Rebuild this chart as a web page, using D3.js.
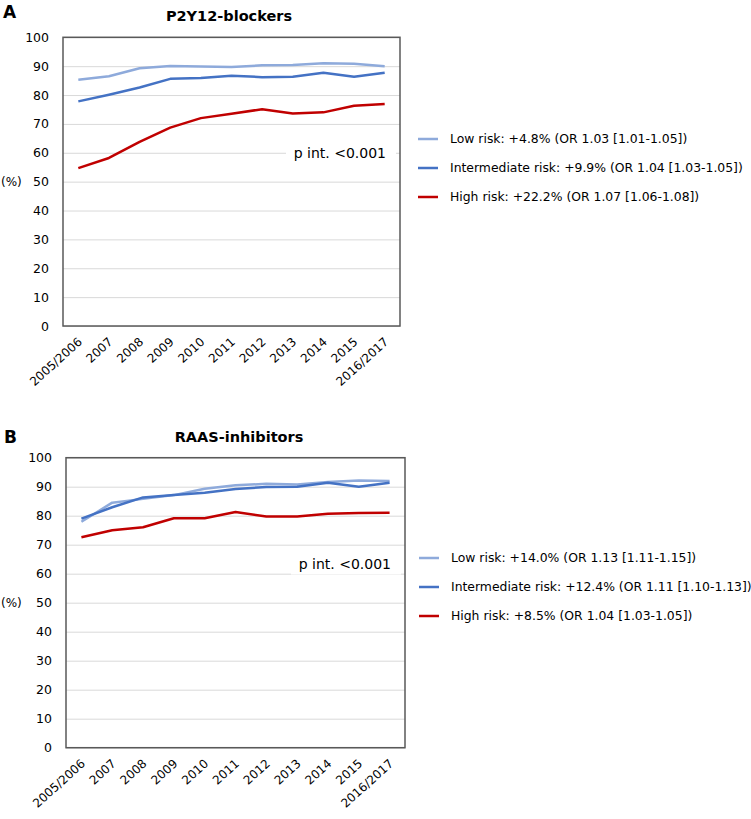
<!DOCTYPE html>
<html>
<head>
<meta charset="utf-8">
<script src="https://cdn.jsdelivr.net/npm/d3@7"></script>
<style>
  html, body { margin: 0; padding: 0; background: #fff; }
  svg { display: block; font-family: "DejaVu Sans", sans-serif; }
</style>
</head>
<body>
<svg id="chart" width="751" height="819"></svg>
<script>
// ---------- data ----------
const categories = ["2005/2006","2007","2008","2009","2010","2011","2012","2013","2014","2015","2016/2017"];
const yTickValues = [0,10,20,30,40,50,60,70,80,90,100];
const seriesNames = ["Low risk","Intermediate risk","High risk"];

const p2y12Low  = [85.3, 86.5, 89.3, 90.1, 89.9, 89.7, 90.3, 90.4, 91.0, 90.8, 90.0];
const p2y12Int  = [77.8, 80.1, 82.6, 85.6, 85.9, 86.7, 86.2, 86.3, 87.7, 86.3, 87.7];
const p2y12High = [54.7, 58.2, 63.8, 68.7, 72.0, 73.5, 75.1, 73.6, 74.0, 76.3, 76.9];
const p2y12Legend = [
  "Low risk: +4.8% (OR 1.03 [1.01-1.05])",
  "Intermediate risk: +9.9% (OR 1.04 [1.03-1.05])",
  "High risk: +22.2% (OR 1.07 [1.06-1.08])"
];

const raasLow  = [77.9, 84.5, 85.8, 87.1, 89.3, 90.5, 91.0, 90.8, 91.6, 92.1, 92.0];
const raasInt  = [79.0, 82.9, 86.3, 87.1, 87.9, 89.2, 89.9, 90.0, 91.4, 90.0, 91.4];
const raasHigh = [72.6, 75.0, 76.0, 79.1, 79.1, 81.3, 79.7, 79.7, 80.7, 80.9, 81.0];
const raasLegend = [
  "Low risk: +14.0% (OR 1.13 [1.11-1.15])",
  "Intermediate risk: +12.4% (OR 1.11 [1.10-1.13])",
  "High risk: +8.5% (OR 1.04 [1.03-1.05])"
];

const colors = ["#8eaadb", "#4472c4", "#c00000"];

// ---------- drawing ----------
const svg = d3.select("#chart");

function drawPanel(opt) {
  const g = svg.append("g");
  const x = d3.scalePoint().domain(categories).range([opt.x0, opt.x1]).padding(0.5);
  const y = d3.scaleLinear().domain([0, 100]).range([opt.y0, opt.y1]);

  // panel letter & title
  g.append("text").attr("x", opt.letterX).attr("y", opt.letterY)
    .attr("font-size", 17).attr("font-weight", "bold").attr("fill", "#000").text(opt.letter);
  g.append("text").attr("x", opt.titleX).attr("y", opt.titleY).attr("text-anchor", "middle")
    .attr("font-size", 14.5).attr("font-weight", "bold").attr("fill", "#000").text(opt.title);

  // gridlines
  const grid = g.append("g").attr("transform", `translate(${opt.x0},0)`)
    .call(d3.axisLeft(y).tickValues(yTickValues).tickSize(-(opt.x1 - opt.x0)).tickFormat(""));
  grid.select(".domain").remove();
  grid.selectAll("line").attr("stroke", "#d9d9d9").attr("stroke-width", 1);

  // y tick labels
  const ya = g.append("g").attr("transform", `translate(${opt.x0 - 14},0)`)
    .call(d3.axisLeft(y).tickValues(yTickValues).tickSize(0).tickPadding(0));
  ya.select(".domain").remove();
  ya.selectAll("text").attr("font-size", 12.5).attr("font-family", "DejaVu Sans, sans-serif").attr("fill", "#000");

  // (%) label
  g.append("text").attr("x", 1).attr("y", y(50)).attr("dy", "0.35em")
    .attr("font-size", 12).attr("fill", "#000").text("(%)");

  // x tick labels
  const xa = g.append("g").attr("transform", `translate(0,${opt.y0})`)
    .call(d3.axisBottom(x).tickSize(0).tickPadding(0));
  xa.select(".domain").remove();
  xa.selectAll("text")
    .attr("font-size", 12).attr("font-family", "DejaVu Sans, sans-serif").attr("fill", "#000")
    .attr("text-anchor", "end").attr("dy", null).attr("y", 0)
    .attr("transform", "translate(4,17) rotate(-42)");

  // p int annotation with white box
  const pY = y(opt.pVal);
  g.append("rect").attr("x", opt.x1 - 114).attr("y", pY - 11).attr("width", 110).attr("height", 22).attr("fill", "#fff");
  g.append("text").attr("x", opt.x1 - 14).attr("y", pY).attr("dy", "0.36em").attr("text-anchor", "end")
    .attr("font-size", 14).attr("fill", "#000").text("p int. <0.001");

  // lines
  const line = d3.line().x((d, i) => x(categories[i])).y(d => y(d));
  opt.series.forEach((s, k) => {
    g.append("path").datum(s).attr("d", line).attr("fill", "none")
      .attr("stroke", colors[k]).attr("stroke-width", 2.5).attr("stroke-linejoin", "round");
  });

  // frame
  g.append("rect").attr("x", opt.x0).attr("y", opt.y1).attr("width", opt.x1 - opt.x0).attr("height", opt.y0 - opt.y1)
    .attr("fill", "none").attr("stroke", "#595959").attr("stroke-width", 1.5);

  // legend
  opt.legend.forEach((t, k) => {
    const ly = opt.legendY + k * 29;
    g.append("line").attr("x1", opt.legendX).attr("x2", opt.legendX + 20).attr("y1", ly).attr("y2", ly)
      .attr("stroke", colors[k]).attr("stroke-width", 2.5);
    g.append("text").attr("x", opt.legendX + 32).attr("y", ly).attr("dy", "0.36em")
      .attr("font-size", 12.4).attr("fill", "#000").text(t);
  });
}

drawPanel({
  letter: "A", letterX: 3, letterY: 18, title: "P2Y12-blockers", titleX: 229, titleY: 21,
  x0: 63, x1: 400, y0: 326, y1: 37.3, pVal: 60,
  series: [p2y12Low, p2y12Int, p2y12High], legend: p2y12Legend, legendX: 418, legendY: 139
});

drawPanel({
  letter: "B", letterX: 4, letterY: 443, title: "RAAS-inhibitors", titleX: 239, titleY: 442,
  x0: 66, x1: 405, y0: 747.7, y1: 457.7, pVal: 63.5,
  series: [raasLow, raasInt, raasHigh], legend: raasLegend, legendX: 419, legendY: 558
});
</script>
</body>
</html>
